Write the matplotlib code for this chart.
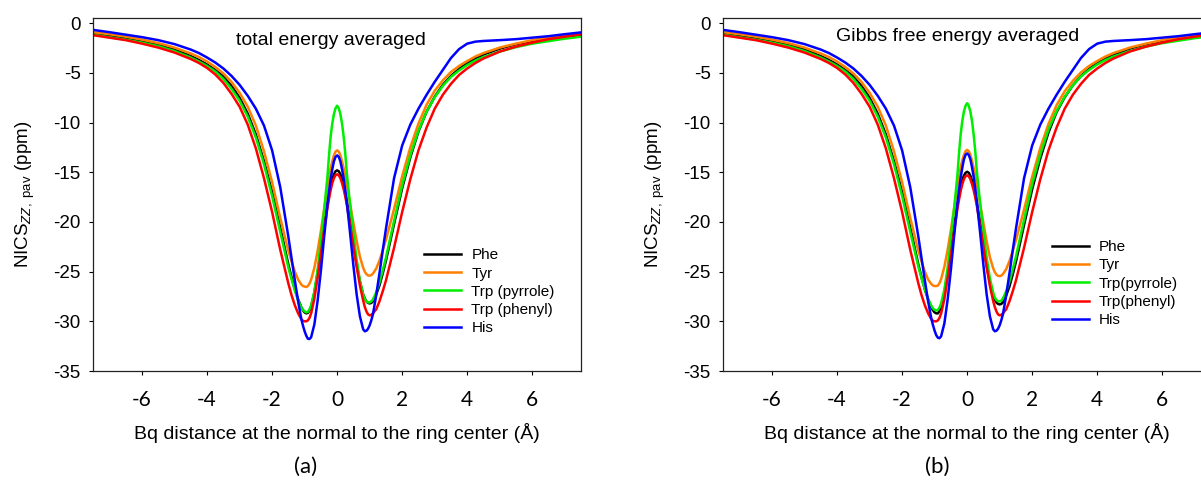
import numpy as np
import matplotlib.pyplot as plt

plt.rcParams['font.family'] = ['Liberation Sans', 'DejaVu Sans']
plt.rcParams['mathtext.fontset'] = 'custom'
plt.rcParams['mathtext.rm'] = 'Liberation Sans'
plt.rcParams['mathtext.it'] = 'Liberation Sans:italic'

# Bq positions (Å)
dist = [-7.5, -7, -6.5, -6, -5.5, -5, -4.5, -4.25, -4, -3.75, -3.5, -3.25, -3, -2.75, -2.5, -2.25, -2, -1.75,
        -1.5, -1.4, -1.3, -1.2, -1.1, -1.05, -1.0, -0.95, -0.9, -0.85, -0.8, -0.7, -0.6, -0.5, -0.4, -0.3,
        -0.25, -0.2, -0.15, -0.1, -0.05, 0.0, 0.05, 0.1, 0.15, 0.2, 0.25,
        0.3, 0.4, 0.5, 0.6, 0.7, 0.8, 0.85, 0.9, 0.95, 1.0, 1.05, 1.1, 1.2, 1.3, 1.4, 1.5,
        1.75, 2, 2.25, 2.5, 2.75, 3, 3.25, 3.5, 3.75, 4, 4.25, 4.5, 5, 5.5, 6, 6.5, 7, 7.5]

# (a) total energy averaged
phe_a = [-1.0, -1.2, -1.45, -1.75, -2.15, -2.65, -3.3, -3.7, -4.15, -4.7, -5.35, -6.3, -7.5, -9.1, -11.2, -13.9, -17.0, -20.6,
         -24.3, -25.6, -26.8, -27.8, -28.6, -28.9, -29.1, -29.2, -29.15, -28.9, -28.5, -27.1, -25.1, -22.8, -20.4, -18.2,
         -17.25, -16.4, -15.7, -15.2, -14.9, -14.8, -14.9, -15.2, -15.7, -16.3, -17.1,
         -18.0, -20.0, -22.2, -24.3, -26.0, -27.3, -27.7, -28.0, -28.15, -28.2, -28.15, -28.0, -27.3, -26.4, -25.2, -23.9,
         -20.2, -16.6, -13.5, -10.9, -8.9, -7.4, -6.2, -5.3, -4.6, -4.0, -3.55, -3.15, -2.55, -2.1, -1.8, -1.55, -1.35, -1.2]
tyr_a = [-0.9, -1.1, -1.35, -1.65, -2.0, -2.45, -3.05, -3.4, -3.85, -4.4, -5.05, -5.9, -7.0, -8.4, -10.3, -12.9, -16.0, -19.6,
         -22.9, -24.0, -25.0, -25.8, -26.3, -26.45, -26.5, -26.55, -26.45, -26.2, -25.8, -24.6, -22.9, -20.9, -18.7, -16.5,
         -15.5, -14.6, -13.9, -13.3, -12.92, -12.8, -12.92, -13.3, -13.9, -14.6, -15.4,
         -16.3, -18.2, -20.1, -21.9, -23.5, -24.6, -25.0, -25.25, -25.38, -25.4, -25.35, -25.2, -24.7, -23.9, -22.9, -21.8,
         -18.7, -15.4, -12.5, -10.1, -8.2, -6.8, -5.75, -4.9, -4.3, -3.8, -3.35, -3.0, -2.45, -2.05, -1.7, -1.45, -1.2, -1.0]
pyr_a = [-1.15, -1.4, -1.65, -1.95, -2.3, -2.8, -3.45, -3.85, -4.3, -4.85, -5.6, -6.6, -7.8, -9.4, -11.5, -14.2, -17.4, -21.0,
         -24.6, -25.8, -26.9, -27.9, -28.6, -28.85, -29.0, -29.1, -29.05, -28.8, -28.4, -27.0, -24.8, -21.8, -18.8, -15.5,
         -13.3, -11.4, -10.1, -9.15, -8.55, -8.3, -8.55, -9.15, -10.1, -11.4, -13.1,
         -15.2, -18.3, -21.2, -23.8, -25.9, -27.3, -27.75, -28.0, -28.1, -28.1, -28.0, -27.8, -27.1, -26.1, -24.9, -23.6,
         -19.9, -16.3, -13.3, -10.8, -8.9, -7.45, -6.3, -5.4, -4.75, -4.2, -3.75, -3.4, -2.85, -2.4, -2.05, -1.8, -1.55, -1.35]
phn_a = [-1.2, -1.45, -1.7, -2.05, -2.45, -2.95, -3.6, -4.0, -4.5, -5.15, -6.0, -7.1, -8.4, -10.2, -12.6, -15.6, -19.0, -22.8,
         -26.2, -27.4, -28.4, -29.2, -29.8, -29.95, -30.0, -30.0, -29.9, -29.65, -29.2, -27.7, -25.6, -23.2, -20.8, -18.6,
         -17.65, -16.8, -16.1, -15.6, -15.3, -15.2, -15.3, -15.6, -16.1, -16.7, -17.45,
         -18.3, -20.3, -22.4, -24.5, -26.4, -27.9, -28.55, -29.0, -29.3, -29.4, -29.35, -29.2, -28.8, -28.0, -27.0, -25.9,
         -22.6, -19.0, -15.7, -12.8, -10.5, -8.6, -7.2, -6.1, -5.2, -4.55, -4.0, -3.55, -2.85, -2.35, -1.95, -1.6, -1.35, -1.1]
his_a = [-0.67, -0.9, -1.15, -1.4, -1.7, -2.1, -2.65, -3.0, -3.45, -3.95, -4.55, -5.3, -6.2, -7.3, -8.6, -10.3, -12.8, -16.5,
         -21.5, -23.7, -25.9, -28.0, -29.8, -30.45, -31.0, -31.45, -31.75, -31.78, -31.6, -30.3, -27.9, -24.9, -21.5, -18.3,
         -16.95, -15.7, -14.7, -13.9, -13.45, -13.3, -13.45, -13.9, -14.7, -15.6, -16.8,
         -18.1, -21.2, -24.4, -27.3, -29.5, -30.8, -31.0, -30.95, -30.75, -30.4, -29.9, -29.3, -27.4, -25.2, -22.9, -20.7,
         -15.6, -12.3, -10.2, -8.6, -7.2, -5.9, -4.7, -3.5, -2.6, -2.05, -1.85, -1.78, -1.7, -1.6, -1.45, -1.3, -1.1, -0.92]

# (b) Gibbs free energy averaged
phe_b = [-1.0, -1.2, -1.45, -1.75, -2.15, -2.65, -3.3, -3.7, -4.15, -4.7, -5.35, -6.3, -7.5, -9.1, -11.2, -13.9, -17.0, -20.6,
         -24.3, -25.6, -26.8, -27.8, -28.6, -28.9, -29.1, -29.2, -29.2, -28.95, -28.55, -27.15, -25.15, -22.85, -20.5, -18.3,
         -17.35, -16.5, -15.8, -15.35, -15.05, -14.95, -15.05, -15.35, -15.85, -16.4, -17.2,
         -18.1, -20.1, -22.3, -24.4, -26.1, -27.4, -27.8, -28.1, -28.25, -28.3, -28.25, -28.1, -27.4, -26.5, -25.3, -24.0,
         -20.3, -16.7, -13.6, -11.0, -8.95, -7.45, -6.25, -5.3, -4.6, -4.0, -3.55, -3.15, -2.55, -2.1, -1.8, -1.55, -1.35, -1.2]
tyr_b = [-0.9, -1.1, -1.35, -1.65, -2.0, -2.45, -3.05, -3.4, -3.85, -4.4, -5.05, -5.9, -7.0, -8.4, -10.3, -12.9, -16.0, -19.6,
         -22.9, -24.0, -25.0, -25.8, -26.25, -26.4, -26.45, -26.45, -26.4, -26.15, -25.75, -24.5, -22.8, -20.8, -18.6, -16.4,
         -15.45, -14.5, -13.8, -13.25, -12.87, -12.75, -12.87, -13.25, -13.85, -14.55, -15.35,
         -16.25, -18.2, -20.1, -21.95, -23.55, -24.65, -25.05, -25.3, -25.42, -25.45, -25.4, -25.25, -24.75, -23.95, -22.95, -21.85,
         -18.75, -15.45, -12.55, -10.15, -8.25, -6.85, -5.8, -4.95, -4.3, -3.8, -3.35, -3.0, -2.45, -2.05, -1.7, -1.45, -1.2, -1.0]
pyr_b = [-1.15, -1.4, -1.65, -1.95, -2.3, -2.8, -3.45, -3.85, -4.3, -4.85, -5.6, -6.6, -7.8, -9.4, -11.5, -14.2, -17.4, -21.0,
         -24.5, -25.7, -26.8, -27.75, -28.45, -28.7, -28.85, -28.9, -28.85, -28.6, -28.2, -26.8, -24.6, -21.6, -18.6, -15.3,
         -13.1, -11.2, -9.85, -8.9, -8.3, -8.05, -8.3, -8.9, -9.85, -11.2, -12.9,
         -15.0, -18.1, -21.0, -23.6, -25.7, -27.1, -27.6, -27.85, -27.98, -28.0, -27.92, -27.7, -27.0, -26.0, -24.8, -23.5,
         -19.8, -16.2, -13.2, -10.7, -8.85, -7.4, -6.25, -5.35, -4.7, -4.15, -3.7, -3.35, -2.8, -2.35, -2.0, -1.75, -1.5, -1.3]
phn_b = [-1.2, -1.45, -1.7, -2.05, -2.45, -2.95, -3.6, -4.0, -4.5, -5.15, -6.0, -7.1, -8.4, -10.2, -12.6, -15.6, -19.0, -22.8,
         -26.2, -27.4, -28.4, -29.2, -29.8, -29.95, -30.0, -30.0, -29.9, -29.65, -29.2, -27.75, -25.65, -23.3, -20.9, -18.7,
         -17.75, -16.9, -16.2, -15.7, -15.4, -15.3, -15.4, -15.7, -16.2, -16.8, -17.55,
         -18.4, -20.4, -22.5, -24.55, -26.45, -27.95, -28.55, -29.0, -29.3, -29.4, -29.35, -29.2, -28.8, -28.0, -27.0, -25.9,
         -22.6, -19.0, -15.7, -12.8, -10.5, -8.6, -7.2, -6.1, -5.2, -4.55, -4.0, -3.55, -2.85, -2.35, -1.95, -1.6, -1.35, -1.1]
his_b = [-0.67, -0.9, -1.15, -1.4, -1.7, -2.1, -2.65, -3.0, -3.45, -3.95, -4.55, -5.3, -6.2, -7.3, -8.6, -10.3, -12.8, -16.5,
         -21.5, -23.7, -25.9, -28.0, -29.75, -30.4, -30.95, -31.4, -31.65, -31.7, -31.5, -30.2, -27.8, -24.8, -21.4, -18.2,
         -16.8, -15.55, -14.55, -13.7, -13.25, -13.1, -13.25, -13.7, -14.5, -15.45, -16.65,
         -18.0, -21.1, -24.35, -27.3, -29.5, -30.8, -31.0, -30.95, -30.75, -30.4, -29.9, -29.3, -27.4, -25.2, -22.9, -20.7,
         -15.6, -12.3, -10.2, -8.6, -7.2, -5.9, -4.7, -3.5, -2.6, -2.05, -1.85, -1.78, -1.7, -1.6, -1.45, -1.3, -1.1, -0.92]

labels_a = ['Phe', 'Tyr', 'Trp (pyrrole)', 'Trp (phenyl)', 'His']
labels_b = ['Phe', 'Tyr', 'Trp(pyrrole)', 'Trp(phenyl)', 'His']
colors = ['#000000', '#ff8000', '#00ee00', '#ff0000', '#0000ff']
xticks = [-6, -4, -2, 0, 2, 4, 6]
yticks = [0, -5, -10, -15, -20, -25, -30, -35]

fig = plt.figure(figsize=(12.01, 4.8), dpi=100)
W, H = 1201, 480
ax_a = fig.add_axes([93.3 / W, (H - 371) / H, 487.7 / W, 352.7 / H])
ax_b = fig.add_axes([723.3 / W, (H - 371) / H, 487.7 / W, 352.7 / H])

panels = [
    (ax_a, [phe_a, tyr_a, pyr_a, phn_a, his_a], labels_a, 'total energy averaged', (0.487, 0.938), (0.678, 0.348), '(a)', 306),
    (ax_b, [phe_b, tyr_b, pyr_b, phn_b, his_b], labels_b, 'Gibbs free energy averaged', (0.48, 0.948), (0.673, 0.371), '(b)', 937),
]

for ax, series, labels, title, tpos, lpos, tag, tagx in panels:
    for ys, lab, c in zip(series, labels, colors):
        ax.plot(dist, ys, color=c, lw=1.8, label=lab, solid_joinstyle='round')
    ax.set_xlim(-7.5, 7.5)
    ax.set_ylim(-35, 0.5)
    ax.set_xticks(xticks)
    ax.set_yticks(yticks)
    ax.set_xticklabels([str(t) for t in xticks], fontfamily='Lato', fontsize=15)
    ax.set_yticklabels([str(t) for t in yticks], fontsize=13.5)
    ax.tick_params(axis='x', direction='out', length=3, width=0.8, pad=10.5)
    ax.tick_params(axis='y', direction='out', length=3, width=0.8, pad=6)
    for s in ax.spines.values():
        s.set_linewidth(0.9)
        s.set_color('#222222')
    ax.set_xlabel('Bq distance at the normal to the ring center (Å)', fontsize=14, va='center')
    ax.xaxis.set_label_coords(0.5, (371 - 433) / 352.7)
    ax.set_ylabel(r'NICS$_{\mathit{ZZ},\ \mathrm{pav}}$ (ppm)', fontsize=13.5, va='center')
    ax.yaxis.set_label_coords((25 - 93.3) / 487.7, 0.5)
    ax.text(tpos[0], tpos[1], title, transform=ax.transAxes, ha='center', va='center', fontsize=14)
    ax.legend(loc='upper left', bbox_to_anchor=lpos, frameon=False, fontsize=11,
              borderaxespad=0, borderpad=0, handlelength=2.45, handletextpad=0.65, labelspacing=0.28)
    fig.text(tagx / W, 1 - 467 / H, tag, ha='center', va='center', fontsize=16, fontfamily='Lato')

fig.savefig('out.png', dpi=100)
